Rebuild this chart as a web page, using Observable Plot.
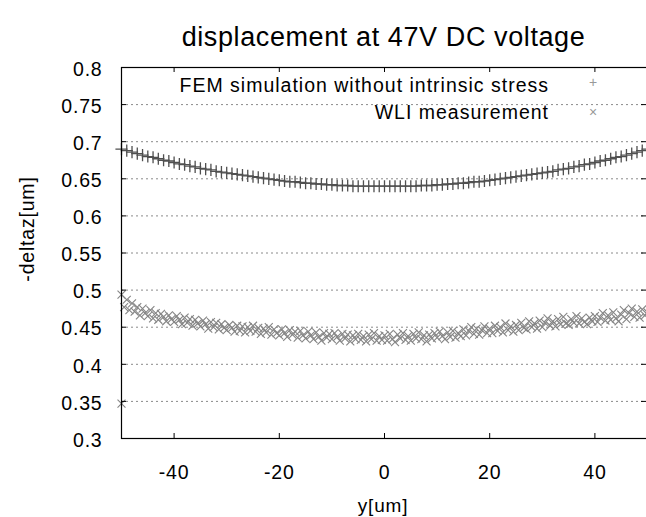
<!DOCTYPE html>
<html>
<head>
<meta charset="utf-8">
<script src="https://cdn.jsdelivr.net/npm/d3@7"></script>
<script src="https://cdn.jsdelivr.net/npm/@observablehq/plot@0.6"></script>
<style>
  html, body { margin: 0; padding: 0; background: #fff; }
  #wrap { position: relative; width: 646px; height: 517px; overflow: hidden; background: #fff;
          font-family: "Liberation Sans", Arial, sans-serif; color: #000; }
  .abs { position: absolute; white-space: nowrap; line-height: 1; }
</style>
</head>
<body>
<div id="wrap">
  <div class="abs" style="left:121px;width:525px;top:24px;text-align:center;font-size:27px;letter-spacing:0.6px;">displacement at 47V DC voltage</div>
  <div class="abs" style="right:97px;top:76px;font-size:19.5px;letter-spacing:1px;text-align:right;">FEM simulation without intrinsic stress</div>
  <div class="abs" style="right:97px;top:103px;font-size:19.5px;letter-spacing:1px;text-align:right;">WLI measurement</div>
  <div class="abs" style="left:593px;top:82px;transform:translate(-50%,-50%);font-size:14px;color:#999;">+</div>
  <div class="abs" style="left:593px;top:112px;transform:translate(-50%,-50%);font-size:14px;color:#999;">×</div>
  <div class="abs" style="left:28px;top:229px;transform:translate(-50%,-50%) rotate(-90deg);font-size:19.5px;letter-spacing:0.8px;">-deltaz[um]</div>
  <div class="abs" style="left:383px;top:495px;transform:translateX(-50%);font-size:19px;letter-spacing:0.8px;line-height:1.15;">y[um]</div>
</div>
<script>
const femX = [-50,-49,-48,-47,-46,-45,-44,-43,-42,-41,
  -40,-39,-38,-37,-36,-35,-34,-33,-32,-31,
  -30,-29,-28,-27,-26,-25,-24,-23,-22,-21,
  -20,-19,-18,-17,-16,-15,-14,-13,-12,-11,
  -10,-9,-8,-7,-6,-5,-4,-3,-2,-1,
  0,
  1,2,3,4,5,6,7,8,9,10,
  11,12,13,14,15,16,17,18,19,20,
  21,22,23,24,25,26,27,28,29,30,
  31,32,33,34,35,36,37,38,39,40,
  41,42,43,44,45,46,47,48,49,50];
const femY = [0.690,0.688,0.686,0.684,0.682,0.680,0.679,0.677,0.675,0.674,
  0.672,0.670,0.669,0.667,0.666,0.664,0.663,0.662,0.660,0.659,
  0.658,0.657,0.656,0.655,0.654,0.653,0.652,0.651,0.650,0.649,
  0.648,0.647,0.646,0.646,0.645,0.644,0.644,0.643,0.643,0.642,
  0.642,0.641,0.641,0.641,0.640,0.640,0.640,0.640,0.640,0.640,
  0.640,
  0.640,0.640,0.640,0.640,0.640,0.640,0.641,0.641,0.641,0.642,
  0.642,0.643,0.643,0.644,0.644,0.645,0.646,0.646,0.647,0.648,
  0.649,0.650,0.651,0.652,0.653,0.654,0.655,0.656,0.657,0.658,
  0.659,0.660,0.662,0.663,0.664,0.666,0.667,0.669,0.670,0.672,
  0.674,0.675,0.677,0.679,0.680,0.682,0.684,0.686,0.688,0.690];

const wliX = [-50,-49.5,-49,-48.5,-48,-47.5,-47,-46.5,-46,-45.5,
  -45,-44.5,-44,-43.5,-43,-42.5,-42,-41.5,-41,-40.5,
  -40,-39.5,-39,-38.5,-38,-37.5,-37,-36.5,-36,-35.5,
  -35,-34.5,-34,-33.5,-33,-32.5,-32,-31.5,-31,-30.5,
  -30,-29.5,-29,-28.5,-28,-27.5,-27,-26.5,-26,-25.5,
  -25,-24.5,-24,-23.5,-23,-22.5,-22,-21.5,-21,-20.5,
  -20,-19.5,-19,-18.5,-18,-17.5,-17,-16.5,-16,-15.5,
  -15,-14.5,-14,-13.5,-13,-12.5,-12,-11.5,-11,-10.5,
  -10,-9.5,-9,-8.5,-8,-7.5,-7,-6.5,-6,-5.5,
  -5,-4.5,-4,-3.5,-3,-2.5,-2,-1.5,-1,-0.5,
  0,0.5,1,1.5,2,2.5,3,3.5,4,4.5,
  5,5.5,6,6.5,7,7.5,8,8.5,9,9.5,
  10,10.5,11,11.5,12,12.5,13,13.5,14,14.5,
  15,15.5,16,16.5,17,17.5,18,18.5,19,19.5,
  20,20.5,21,21.5,22,22.5,23,23.5,24,24.5,
  25,25.5,26,26.5,27,27.5,28,28.5,29,29.5,
  30,30.5,31,31.5,32,32.5,33,33.5,34,34.5,
  35,35.5,36,36.5,37,37.5,38,38.5,39,39.5,
  40,40.5,41,41.5,42,42.5,43,43.5,44,44.5,
  45,45.5,46,46.5,47,47.5,48,48.5,49,49.5,
  50,-50];
const wliY = [0.494,0.477,0.487,0.473,0.482,0.471,0.477,0.466,0.475,0.469,
  0.465,0.473,0.462,0.469,0.460,0.468,0.464,0.458,0.466,0.461,
  0.457,0.465,0.460,0.454,0.463,0.456,0.461,0.452,0.460,0.455,
  0.451,0.459,0.454,0.448,0.457,0.450,0.456,0.447,0.454,0.449,
  0.446,0.453,0.449,0.444,0.452,0.445,0.451,0.443,0.450,0.445,
  0.452,0.444,0.449,0.441,0.448,0.443,0.450,0.440,0.447,0.442,
  0.439,0.447,0.442,0.437,0.446,0.440,0.444,0.436,0.445,0.439,
  0.435,0.444,0.439,0.434,0.443,0.437,0.432,0.442,0.436,0.441,
  0.434,0.442,0.437,0.432,0.441,0.435,0.440,0.431,0.439,0.434,
  0.441,0.433,0.438,0.431,0.440,0.434,0.442,0.432,0.438,0.433,
  0.439,0.432,0.441,0.434,0.430,0.440,0.435,0.442,0.433,0.438,
  0.432,0.441,0.435,0.443,0.434,0.439,0.431,0.440,0.435,0.442,
  0.436,0.444,0.438,0.434,0.443,0.437,0.445,0.436,0.442,0.438,
  0.447,0.439,0.445,0.450,0.441,0.448,0.440,0.446,0.451,0.442,
  0.448,0.442,0.452,0.445,0.450,0.443,0.455,0.446,0.451,0.444,
  0.453,0.446,0.456,0.449,0.447,0.458,0.450,0.455,0.448,0.459,
  0.450,0.456,0.462,0.452,0.458,0.451,0.461,0.454,0.464,0.455,
  0.453,0.461,0.456,0.465,0.455,0.462,0.457,0.454,0.463,0.458,
  0.465,0.457,0.463,0.469,0.459,0.466,0.460,0.470,0.462,0.458,
  0.467,0.473,0.461,0.469,0.475,0.464,0.471,0.463,0.474,0.466,
  0.470,0.347];

const xTicks = [-40, -20, 0, 20, 40];
const xTickLabels = ["-40", "-20", "0", "20", "40"];
const yTicks = [0.3, 0.35, 0.4, 0.45, 0.5, 0.55, 0.6, 0.65, 0.7, 0.75, 0.8];
const yTickLabels = ["0.3","0.35","0.4","0.45","0.5","0.55","0.6","0.65","0.7","0.75","0.8"];
const gridY = [0.35, 0.4, 0.45, 0.5, 0.55, 0.6, 0.65, 0.7, 0.75];

const fem = femX.map((x, i) => ({x, y: femY[i]}));
const wli = wliX.map((x, i) => ({x, y: wliY[i]}));

const chart = Plot.plot({
  width: 646,
  height: 517,
  marginLeft: 121,
  marginRight: -1,
  marginTop: 67,
  marginBottom: 79,
  x: {domain: [-50, 50]},
  y: {domain: [0.3, 0.8]},
  style: {fontFamily: "'Liberation Sans', Arial, sans-serif", fontSize: "19.5px", letterSpacing: "0.8px", color: "#000", background: "transparent", overflow: "visible"},
  marks: [
    Plot.ruleY(gridY, {y: d => d, stroke: "#8a8a8a", strokeDasharray: "2,3", strokeWidth: 1}),
    Plot.dot(wli, {x: "x", y: "y", symbol: "times", r: 3.7, stroke: "#858585", strokeWidth: 1.1}),
    Plot.dot(fem, {x: "x", y: "y", symbol: "plus", r: 4, stroke: "#505050", strokeWidth: 1.3}),
    Plot.frame({stroke: "#000", strokeWidth: 1.2}),
    Plot.tickY(yTicks, {y: d => d, insetRight: 521, stroke: "#000"}),
    Plot.tickY(yTicks, {y: d => d, insetLeft: 520, insetRight: 1, stroke: "#000"}),
    Plot.tickX(xTicks, {x: d => d, insetTop: 366, stroke: "#000"}),
    Plot.tickX(xTicks, {x: d => d, insetBottom: 366, stroke: "#000"}),
    Plot.axisX(xTicks, {tickSize: 0, tickPadding: 27, label: null, tickFormat: d => xTickLabels[xTicks.indexOf(d)]}),
    Plot.axisY(yTicks, {tickSize: 0, tickPadding: 19, dy: 2, label: null, tickFormat: d => yTickLabels[yTicks.indexOf(d)]})
  ]
});
chart.style.position = "absolute";
chart.style.left = "0px";
chart.style.top = "0px";
document.getElementById("wrap").prepend(chart);
</script>
</body>
</html>
